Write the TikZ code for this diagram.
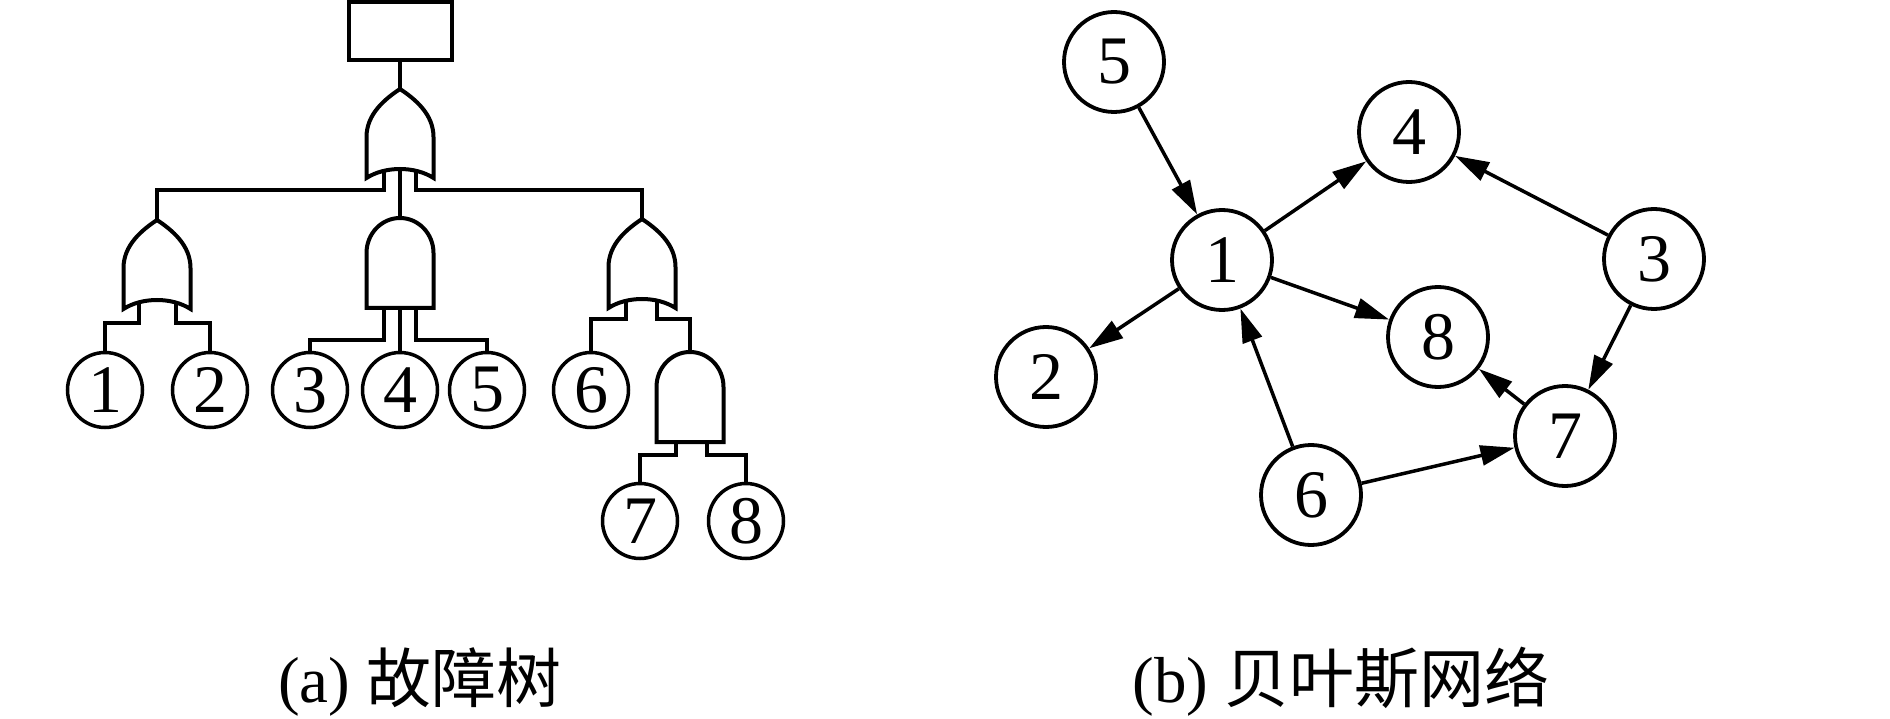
\documentclass[tikz,border=0pt]{standalone}
\usepackage{fontspec}
\setmainfont{Liberation Serif}
\newfontfamily\cjk{Noto Sans CJK SC}
\usetikzlibrary{arrows.meta}
\begin{document}
\begin{tikzpicture}[x=1pt,y=-1pt,
  ev/.style={circle,draw,line width=3.5pt,minimum size=75pt,inner sep=0pt,font=\fontsize{68}{68}\selectfont},
  bn/.style={circle,draw,line width=3.8pt,minimum size=100pt,inner sep=0pt,font=\fontsize{68}{68}\selectfont},
  arr/.style={line width=3.5pt,-{Triangle[length=34pt,width=20pt]}},
  wire/.style={line width=4pt},
  gatebody/.style={draw,fill=white,line width=4pt},
  captext/.style={anchor=base,font=\fontsize{65}{65}\selectfont,inner sep=0pt},
  orgate/.pic={\path[gatebody] (0,0) .. controls (15,10) and (33.5,25) .. (33.5,48) -- (33.5,89) .. controls (15,77) and (-15,77) .. (-33.5,89) -- (-33.5,48) .. controls (-33.5,25) and (-15,10) .. (0,0) -- cycle;},
  andgate/.pic={\path[gatebody] (-33.5,90) -- (-33.5,35) .. controls (-33.5,15.7) and (-18.5,0) .. (0,0) .. controls (18.5,0) and (33.5,15.7) .. (33.5,35) -- (33.5,90) -- cycle;}
]
\useasboundingbox (0,0) rectangle (1890,719);

% ---------- (a) fault tree ----------
\node[draw,line width=4pt,minimum width=103pt,minimum height=58pt,inner sep=0pt] (top) at (400,31) {};
\coordinate (g0) at (400,89);
\coordinate (g1) at (157,220);
\coordinate (g2) at (400,218);
\coordinate (g3) at (642,219);
\coordinate (g4) at (690,352);
\coordinate (b0) at (400,190);
\coordinate (b1) at (157,323);
\coordinate (b2) at (400,340);
\coordinate (b3) at (642,319);
\coordinate (b4) at (690,455);

\node[ev] (e1) at (105,390) {1};
\node[ev] (e2) at (210,390) {2};
\node[ev] (e3) at (310,390) {3};
\node[ev] (e4) at (400,390) {4};
\node[ev] (e5) at (487,390) {5};
\node[ev] (e6) at (591,390) {6};
\node[ev] (e7) at (640,521) {7};
\node[ev] (e8) at (746,521) {8};

\draw[wire] (top.south) -- (g0);
\draw[wire] ([shift={(-16,70)}]g0) |- (b0 -| g1) -- (g1);
\draw[wire] ([shift={(0,70)}]g0) -- (g2);
\draw[wire] ([shift={(16,70)}]g0) |- (b0 -| g3) -- (g3);

\draw[wire] ([shift={(-18.5,70)}]g1) |- (b1 -| e1) -- (e1);
\draw[wire] ([shift={(18.5,70)}]g1) |- (b1 -| e2) -- (e2);

\draw[wire] ([shift={(-16,60)}]g2) |- (b2 -| e3) -- (e3);
\draw[wire] ([shift={(0,60)}]g2) -- (e4);
\draw[wire] ([shift={(16,60)}]g2) |- (b2 -| e5) -- (e5);

\draw[wire] ([shift={(-16,70)}]g3) |- (b3 -| e6) -- (e6);
\draw[wire] ([shift={(15,70)}]g3) |- (b3 -| g4) -- (g4);

\draw[wire] ([shift={(-14,60)}]g4) |- (b4 -| e7) -- (e7);
\draw[wire] ([shift={(17,60)}]g4) |- (b4 -| e8) -- (e8);

\pic at (g0) {orgate};
\pic at (g1) {orgate};
\pic at (g2) {andgate};
\pic at (g3) {orgate};
\pic at (g4) {andgate};

% ---------- (b) Bayesian network ----------
\node[bn] (n5) at (1114,62) {5};
\node[bn] (n4) at (1409,132) {4};
\node[bn] (n1) at (1222,260) {1};
\node[bn] (n2) at (1046,377) {2};
\node[bn] (n8) at (1438,337) {8};
\node[bn] (n6) at (1311,495) {6};
\node[bn] (n3) at (1654,259) {3};
\node[bn] (n7) at (1565,436) {7};

\draw[arr] (n5) -- (n1);
\draw[arr] (n1) -- (n4);
\draw[arr] (n1) -- (n2);
\draw[arr] (n1) -- (n8);
\draw[arr] (n6) -- (n1);
\draw[arr] (n6) -- (n7);
\draw[arr] (n3) -- (n4);
\draw[arr] (n3) -- (n7);
\draw[arr] (n7) -- (n8);

% ---------- captions ----------
\node[captext] (capa) at (420,702) {(a) {\cjk 故障树}};
\node[captext] (capb) at (1341,702) {(b) {\cjk 贝叶斯网络}};
\end{tikzpicture}
\end{document}
